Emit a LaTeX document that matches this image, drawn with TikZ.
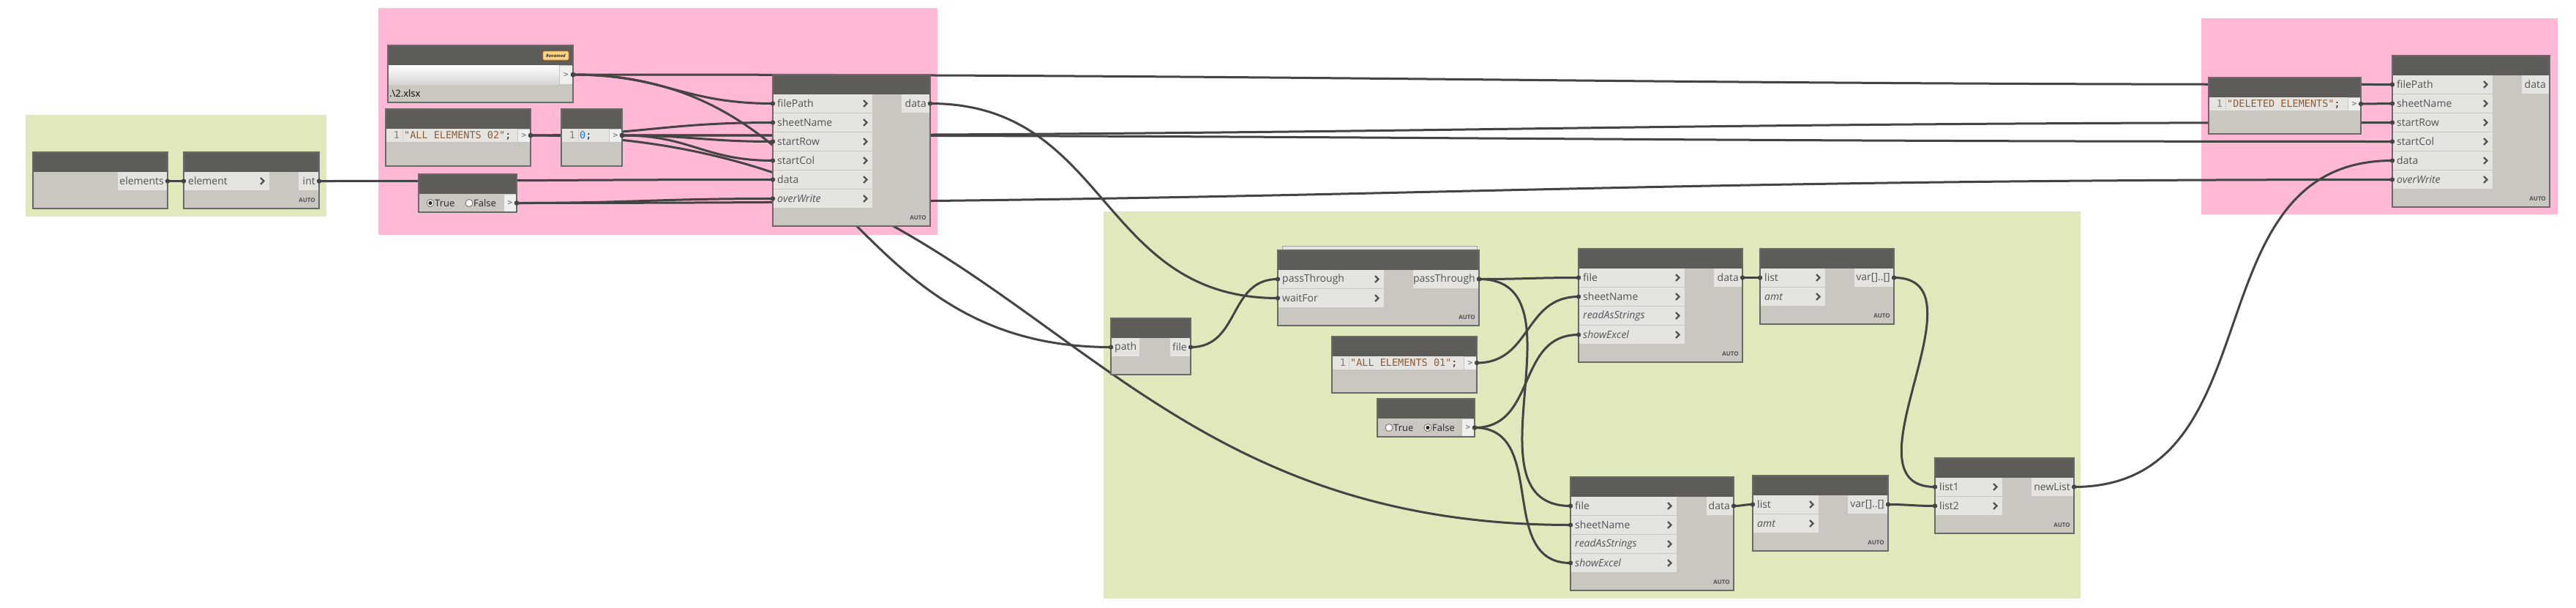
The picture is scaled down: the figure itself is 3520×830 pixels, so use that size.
\documentclass[tikz,border=0pt]{standalone}
\usepackage{fontspec}
\usetikzlibrary{calc}
\setmainfont{Open Sans}
\newfontfamily\codefont{DejaVu Sans Mono}
\definecolor{hdrc}{RGB}{94,92,89}
\definecolor{bodyc}{RGB}{202,198,192}
\definecolor{rowc}{RGB}{229,228,225}
\definecolor{pinkg}{RGB}{255,185,213}
\definecolor{greeng}{RGB}{224,233,188}
\definecolor{wirec}{RGB}{68,68,68}
\definecolor{lblc}{RGB}{82,82,82}
\definecolor{codec}{RGB}{140,92,56}
\definecolor{numc}{RGB}{30,120,225}
\definecolor{bordc}{RGB}{105,105,105}
\definecolor{darkc}{RGB}{40,40,40}
\definecolor{badgec}{RGB}{255,214,140}
\pgfdeclarelayer{bg}
\pgfdeclarelayer{wires}
\pgfdeclarelayer{ntop}
\pgfdeclarelayer{pins}
\pgfsetlayers{bg,wires,main,ntop,pins}
\newcommand\dnode[5]{%
 \node[nodebody,anchor=north west,minimum width={(#4-#2)*1pt},minimum height={(#5-#3)*1pt}] (#1) at (#2,#3) {};
 \fill[hdrc] (#2,#3) rectangle (#4,{#3+27});
 \begin{pgfonlayer}{ntop}\draw[bordc,line width=1.3pt] (#2,#3) rectangle (#4,#5);\end{pgfonlayer}}
\newcommand\inport[6]{%
 \node[rowst,anchor=north west,minimum width={(#4-#2)*1pt}] (#1) at (#2,#3) {};
 \node[#6,anchor=west] at ({#2+6},{#3+12.5}) {#5};
 \draw[chev] ({#4-12},{#3+8}) -- ({#4-7.5},{#3+12.5}) -- ({#4-12},{#3+17});}
\newcommand\inportnc[5]{%
 \node[rowst,anchor=north west,minimum width={(#4-#2)*1pt}] (#1) at (#2,#3) {};
 \node[lbl,anchor=west] at ({#2+5},{#3+12.5}) {#5};}
\newcommand\outport[5]{%
 \node[rowst,anchor=north west,minimum width={(#4-#2)*1pt}] (#1) at (#2,#3) {};
 \node[lbl,anchor=east] at ({#4-5},{#3+12.5}) {#5};}
\newcommand\autolbl[2]{\node[autost,anchor=east] at ({#1-5},{#2-11}) {AUTO};}
\newcommand\coderow[5]{%
 \fill[rowc] (#2,#3) rectangle ({#4-18},{#3+18});
 \node[numst] at ({#2+15},{#3+9}) {1};
 \draw[gray!70,dotted,line width=0.8pt] ({#2+23},{#3+1}) -- ({#2+23},{#3+17});
 \node[codest,anchor=west] at ({#2+25},{#3+9}) {#5};
 \node[btn,anchor=north east,minimum height=18pt,minimum width=18pt] (#1) at (#4,#3) {>};}
\newcommand\radio[3]{%
 \draw[fill=white,draw=gray!80!black,line width=0.8pt] (#1,#2) circle (5);
 \ifnum#3=1 \fill[darkc] (#1,#2) circle (2.6);\fi}
\newcommand\allwires{%
\W{n1-out}{n2-in}
\W{n2-out}{w1-data}
\W{fp-out}{w1-filePath}
\W{fp-out}{w2-filePath}
\W{fp-out}{ffp-path}
\W{cb2-out}{w1-sheetName}
\W{cb2-out}{ie2-sheetName}
\W{cb0-out}{w1-startRow}
\W{cb0-out}{w1-startCol}
\W{cb0-out}{w2-startRow}
\W{cb0-out}{w2-startCol}
\W{bt-out}{w1-overWrite}
\W{bt-out}{w2-overWrite}
\W{w1-out}{pt-waitFor}
\W{ffp-out}{pt-in}
\W{pt-out}{ie1-file}
\W{pt-out}{ie2-file}
\W{cb1-out}{ie1-sheetName}
\W{bf-out}{ie1-showExcel}
\W{bf-out}{ie2-showExcel}
\W{ie1-out}{fl1-list}
\W{ie2-out}{fl2-list}
\W{fl1-out}{j-list1}
\W{fl2-out}{j-list2}
\W{j-out}{w2-data}
\W{cbd-out}{w2-sheetName}}
\begin{document}
\begin{tikzpicture}[x=1pt,y=-1pt,
 nodebody/.style={fill=bodyc,inner sep=0pt,outer sep=0pt},
 rowst/.style={fill=rowc,inner sep=0pt,outer sep=0pt,minimum height=25pt},
 lbl/.style={text=lblc,font=\fontsize{14}{16}\selectfont,inner sep=0pt},
 lbli/.style={text=lblc,font=\fontsize{14}{16}\selectfont\itshape,inner sep=0pt},
 chev/.style={draw=lblc,line width=2.3pt},
 wire/.style={draw=wirec,line width=3pt},
 autost/.style={font=\fontsize{8}{9}\selectfont\bfseries,text=lblc,inner sep=0pt},
 codest/.style={font=\codefont\fontsize{13.5}{15}\selectfont,inner sep=0pt},
 numst/.style={font=\codefont\fontsize{13.5}{15}\selectfont,text=gray,inner sep=0pt},
 btn/.style={fill=rowc!60!white,draw=gray!45,line width=0.6pt,inner sep=0pt,outer sep=0pt,text=gray!80!black,font=\codefont\fontsize{11}{12}\selectfont},
 boolt/.style={font=\fontsize{13}{15}\selectfont,text=darkc,inner sep=0pt},
 badge/.style={fill=badgec,draw=orange!70!brown,rounded corners=2pt,line width=0.6pt,font=\fontsize{6}{7}\selectfont\itshape\bfseries,text=darkc,inner sep=0pt,minimum width=35pt,minimum height=12pt}]
\useasboundingbox (0,0) rectangle (3520,830);
% background and groups
\begin{pgfonlayer}{bg}
\fill[white] (0,0) rectangle (3520,830);
\fill[greeng] (35,157) rectangle (446,296);
\fill[pinkg] (517,11) rectangle (1281,321);
\fill[greeng] (1508,289) rectangle (2843,818);
\fill[pinkg] (3008,25) rectangle (3495,293);
\end{pgfonlayer}
% N1 elements
\dnode{n1}{45}{208}{229}{285}
\outport{n1-out}{161}{235}{229}{elements}
% N2 element
\dnode{n2}{251}{208}{436}{285}
\inport{n2-in}{251}{235}{368}{element}{lbl}
\outport{n2-out}{408}{235}{436}{int}
\autolbl{436}{285}
% file path
\dnode{fp}{530}{62}{783}{140}
\shade[top color=white,bottom color=rowc!85!gray] (531,89) rectangle (764,115);
\node[btn,anchor=north east,minimum height=26pt,minimum width=19pt] (fp-out) at (783,89) {>};
\node[boolt,anchor=west,text=black] at (532,128) {.\textbackslash 2.xlsx};
\node[badge] (fp-badge) at (759.5,76) {Renamed};
% code block ALL ELEMENTS 02
\dnode{cb2}{527}{149}{725}{227}
\coderow{cb2-out}{527}{176}{725}{\textcolor{codec}{"ALL ELEMENTS 02"}\textcolor{darkc}{;}}
% code block 0
\dnode{cb0}{767}{149}{850}{227}
\coderow{cb0-out}{767}{176}{850}{\textcolor{numc}{0}\textcolor{darkc}{;}}
% boolean true
\dnode{bt}{572}{238}{706}{290}
\radio{588}{277.5}{1}
\node[boolt,anchor=west] at (594,277.5) {True};
\radio{641}{277.5}{0}
\node[boolt,anchor=west] at (647,277.5) {False};
\node[btn,anchor=north east,minimum height=25pt,minimum width=18pt] (bt-out) at (706,265) {>};
% write 1
\dnode{w1}{1056}{102}{1271}{309}
\inport{w1-filePath}{1056}{129}{1192}{filePath}{lbl}
\inport{w1-sheetName}{1056}{155}{1192}{sheetName}{lbl}
\inport{w1-startRow}{1056}{181}{1192}{startRow}{lbl}
\inport{w1-startCol}{1056}{207}{1192}{startCol}{lbl}
\inport{w1-data}{1056}{233}{1192}{data}{lbl}
\inport{w1-overWrite}{1056}{259}{1192}{overWrite}{lbli}
\outport{w1-out}{1232}{129}{1271}{data}
\autolbl{1271}{309}
% File.FromPath
\dnode{ffp}{1518}{435}{1627}{512}
\inportnc{ffp-path}{1518}{462}{1557}{path}
\outport{ffp-out}{1599}{462}{1627}{file}
% passThrough
\fill[rowc,draw=gray!70,line width=0.6pt] (1752,336) rectangle (2018,342);
\dnode{pt}{1746}{342}{2021}{445}
\inport{pt-in}{1746}{369}{1891}{passThrough}{lbl}
\inport{pt-waitFor}{1746}{395}{1891}{waitFor}{lbl}
\outport{pt-out}{1931}{369}{2021}{passThrough}
\autolbl{2021}{445}
% code block ALL ELEMENTS 01
\dnode{cb1}{1820}{460}{2018}{537}
\coderow{cb1-out}{1820}{487}{2018}{\textcolor{codec}{"ALL ELEMENTS 01"}\textcolor{darkc}{;}}
% boolean false
\dnode{bf}{1882}{545}{2015}{597}
\radio{1898}{584.5}{0}
\node[boolt,anchor=west] at (1904,584.5) {True};
\radio{1951}{584.5}{1}
\node[boolt,anchor=west] at (1957,584.5) {False};
\node[btn,anchor=north east,minimum height=25pt,minimum width=18pt] (bf-out) at (2015,572) {>};
% import excel 1
\dnode{ie1}{2157}{340}{2381}{495}
\inport{ie1-file}{2157}{367}{2302}{file}{lbl}
\inport{ie1-sheetName}{2157}{393}{2302}{sheetName}{lbl}
\inport{ie1-readAsStrings}{2157}{419}{2302}{readAsStrings}{lbli}
\inport{ie1-showExcel}{2157}{445}{2302}{showExcel}{lbli}
\outport{ie1-out}{2342}{367}{2381}{data}
\autolbl{2381}{495}
% import excel 2
\dnode{ie2}{2146}{652}{2369}{807}
\inport{ie2-file}{2146}{679}{2291}{file}{lbl}
\inport{ie2-sheetName}{2146}{705}{2291}{sheetName}{lbl}
\inport{ie2-readAsStrings}{2146}{731}{2291}{readAsStrings}{lbli}
\inport{ie2-showExcel}{2146}{757}{2291}{showExcel}{lbli}
\outport{ie2-out}{2332}{679}{2369}{data}
\autolbl{2369}{807}
% flatten 1
\dnode{fl1}{2405}{340}{2588}{443}
\inport{fl1-list}{2405}{367}{2494}{list}{lbl}
\inport{fl1-amt}{2405}{393}{2494}{amt}{lbli}
\outport{fl1-out}{2534}{367}{2588}{var[]..[]}
\autolbl{2588}{443}
% flatten 2
\dnode{fl2}{2395}{650}{2580}{753}
\inport{fl2-list}{2395}{677}{2485}{list}{lbl}
\inport{fl2-amt}{2395}{703}{2485}{amt}{lbli}
\outport{fl2-out}{2525}{677}{2580}{var[]..[]}
\autolbl{2580}{753}
% join
\dnode{j}{2644}{626}{2834}{729}
\inport{j-list1}{2644}{653}{2736}{list1}{lbl}
\inport{j-list2}{2644}{679}{2736}{list2}{lbl}
\outport{j-out}{2776}{653}{2834}{newList}
\autolbl{2834}{729}
% code block DELETED ELEMENTS
\dnode{cbd}{3018}{106}{3226}{183}
\coderow{cbd-out}{3018}{133}{3226}{\textcolor{codec}{"DELETED ELEMENTS"}\textcolor{darkc}{;}}
% write 2
\dnode{w2}{3269}{76}{3484}{283}
\inport{w2-filePath}{3269}{103}{3406}{filePath}{lbl}
\inport{w2-sheetName}{3269}{129}{3406}{sheetName}{lbl}
\inport{w2-startRow}{3269}{155}{3406}{startRow}{lbl}
\inport{w2-startCol}{3269}{181}{3406}{startCol}{lbl}
\inport{w2-data}{3269}{207}{3406}{data}{lbl}
\inport{w2-overWrite}{3269}{233}{3406}{overWrite}{lbli}
\outport{w2-out}{3446}{103}{3484}{data}
\autolbl{3484}{283}
% wires
\begin{pgfonlayer}{wires}
\def\W#1#2{\draw[wire] let \p1=(#1.east), \p2=(#2.west), \n1={45*veclen((\x2-\x1)/100,(\y2-\y1)/100)} in (\p1) .. controls ([xshift=\n1]\p1) and ([xshift=-\n1]\p2) .. (\p2);}
\allwires
\end{pgfonlayer}
\begin{pgfonlayer}{pins}
\def\W#1#2{\fill[wirec] (#1.east) circle (3.2); \fill[wirec] (#2.west) circle (3.2);}
\allwires
\end{pgfonlayer}
\end{tikzpicture}
\end{document}
